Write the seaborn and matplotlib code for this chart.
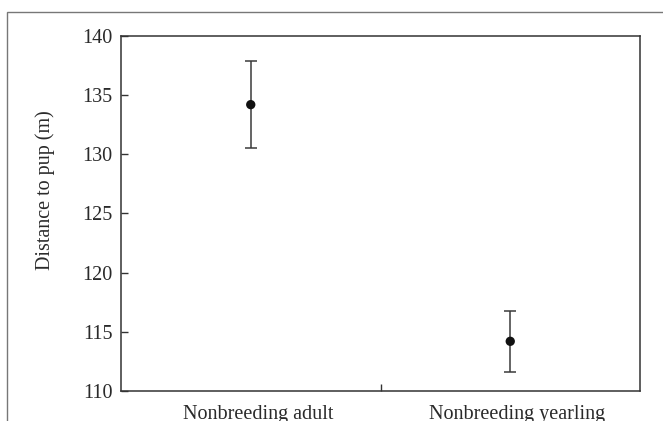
import matplotlib
matplotlib.use("Agg")
import matplotlib.pyplot as plt
import matplotlib.transforms as mtransforms
import seaborn as sns
import pandas as pd
from matplotlib.patches import Rectangle
from matplotlib.ticker import FixedLocator

categories = ["Nonbreeding adult", "Nonbreeding yearling"]
means = [134.2, 114.2]
errors = [3.65, 2.6]
yticks = [110, 115, 120, 125, 130, 135, 140]

sns.set_theme(style="white")
plt.rcParams["font.family"] = ["Liberation Serif", "DejaVu Serif"]

text_color = "#2a2a2a"
spine_color = "#333333"
fs = 14.5

fig = plt.figure(figsize=(6.63, 4.21), dpi=100)
ax = fig.add_axes([121/663, 1 - 391/421, (640 - 121)/663, (391 - 36)/421])

df = pd.DataFrame({"group": categories, "mean": means, "err": errors})

ax.errorbar(df["group"], df["mean"], yerr=df["err"], fmt="none",
            ecolor="#3a3a3a", elinewidth=1.1, capsize=4.2, capthick=1.1, zorder=2)
sns.scatterplot(data=df, x="group", y="mean", ax=ax, color="#111111",
                s=45, edgecolor="none", zorder=3, legend=False)

ax.set_xlim(-0.5, 1.5)
ax.set_ylim(110, 140)
ax.set_yticks(yticks)
ax.set_yticklabels([str(t) for t in yticks])
ax.set_xlabel("")
ax.set_ylabel("Distance to pup (m)", fontsize=fs, color=text_color)
ax.yaxis.set_label_coords(-0.128, 0.566)

ax.tick_params(axis="y", direction="in", length=5, width=1, color=spine_color,
               labelsize=fs, labelcolor=text_color, pad=6, left=True)
ax.tick_params(axis="x", which="major", length=0, labelsize=fs,
               labelcolor=text_color, pad=10)
ax.xaxis.set_minor_locator(FixedLocator([0.5]))
ax.tick_params(axis="x", which="minor", direction="in", length=5, width=1,
               color=spine_color, bottom=True)

offset = mtransforms.ScaledTranslation(7/100, 0, fig.dpi_scale_trans)
for lbl in ax.get_xticklabels():
    lbl.set_transform(lbl.get_transform() + offset)

for sp in ax.spines.values():
    sp.set_visible(True)
    sp.set_color(spine_color)
    sp.set_linewidth(1.1)

frame = Rectangle((7/663, -0.5), 2, (1 - 12/421) + 0.5, transform=fig.transFigure,
                  fill=False, edgecolor="#777777", linewidth=1.0)
fig.patches.append(frame)

fig.savefig("out.png", dpi=100)
